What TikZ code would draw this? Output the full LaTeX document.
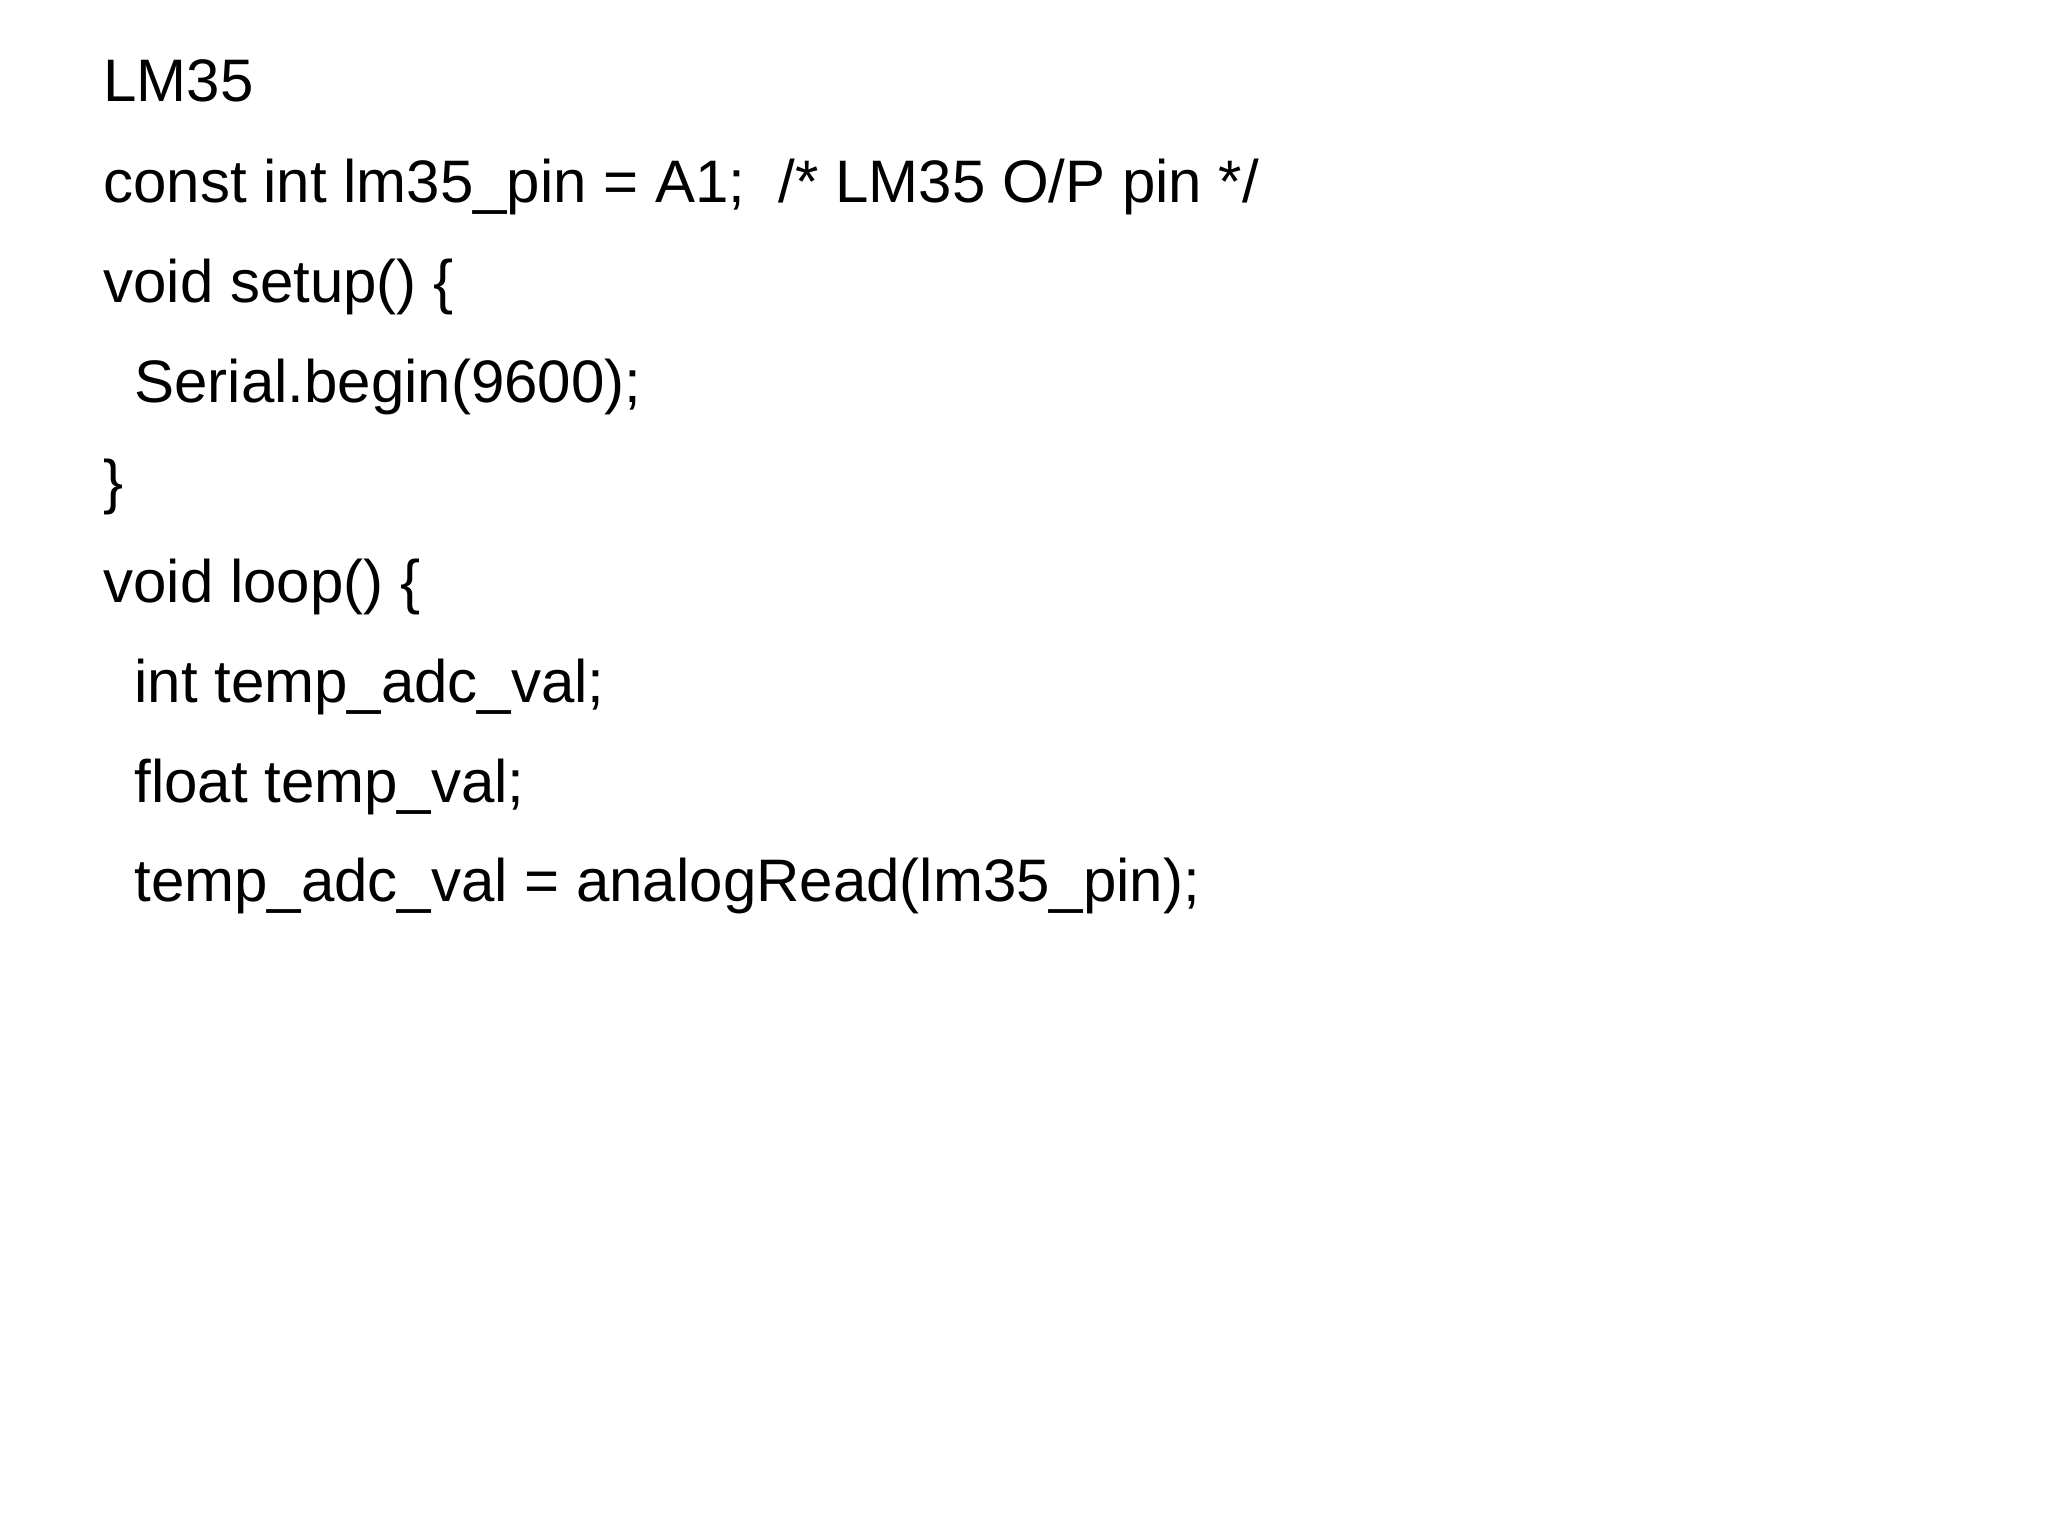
\documentclass[tikz,border=0pt]{standalone}
\usepackage{fontspec}
\setmainfont{Liberation Sans}
\begin{document}
\begin{tikzpicture}[x=0.5pt,y=-0.5pt,
  codeline/.style={anchor=base west,inner sep=0pt,font=\fontsize{30}{36}\selectfont}]
\useasboundingbox (0,0) rectangle (2048,1536);
\node[codeline] (l0) at (103,102) {LM35};
\node[codeline] (l1) at (103,202) {const int lm35\_pin = A1;\ \ /* LM35 O/P pin */};
\node[codeline] (l2) at (103,302) {void setup() \{};
\node[codeline] (l3) at (134,402) {Serial.begin(9600);};
\node[codeline] (l4) at (103,502) {\}};
\node[codeline] (l5) at (103,602) {void loop() \{};
\node[codeline] (l6) at (134,702) {int temp\_adc\_val;};
\node[codeline] (l7) at (134,802) {float temp\_val;};
\node[codeline] (l8) at (134,901) {temp\_adc\_val = analogRead(lm35\_pin);};
\end{tikzpicture}
\end{document}
